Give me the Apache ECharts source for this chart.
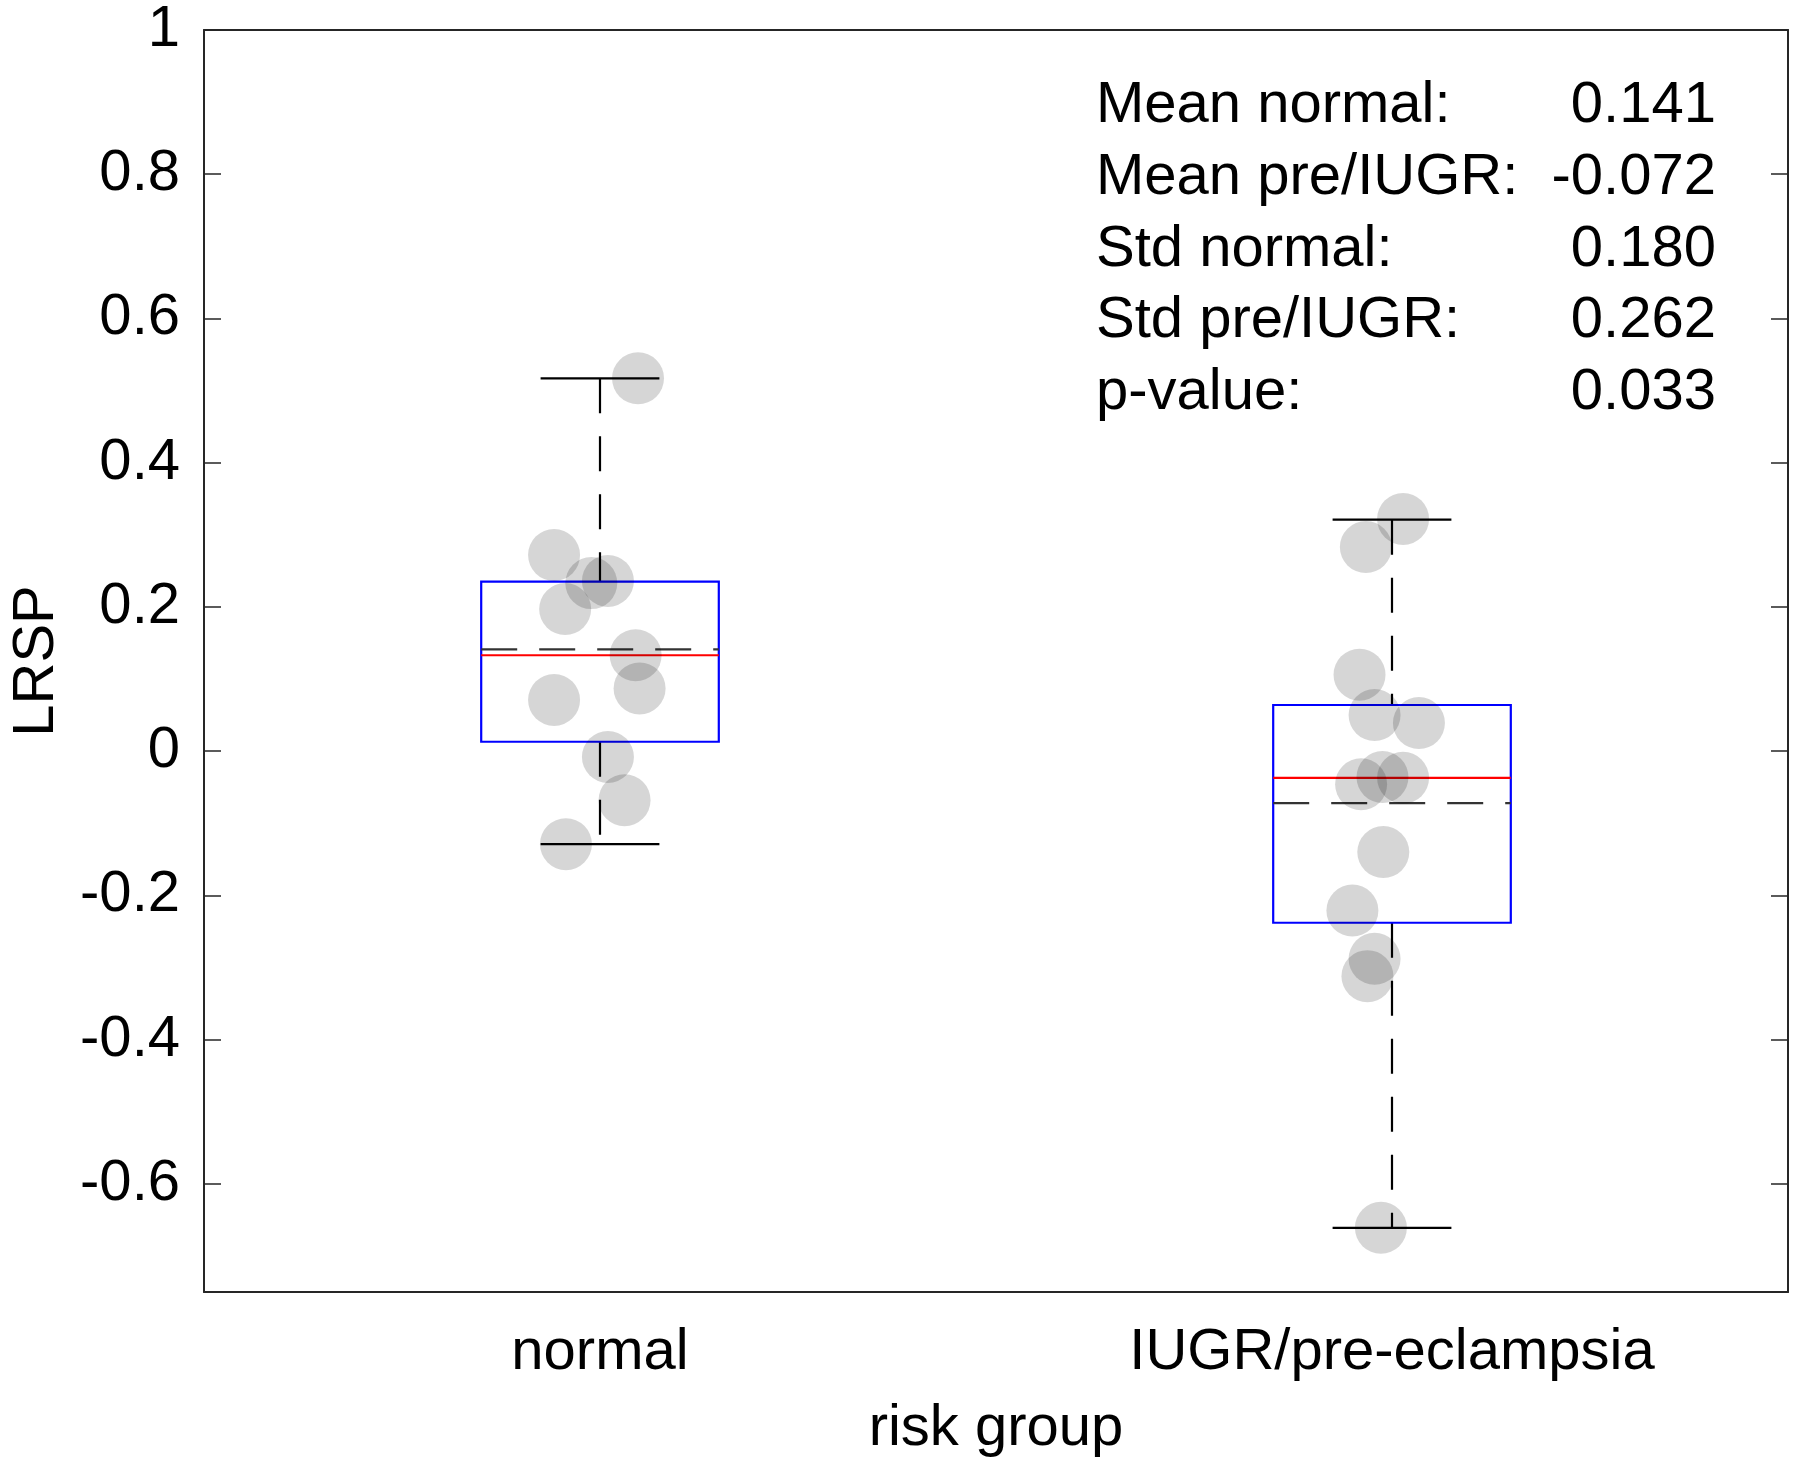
<!DOCTYPE html>
<html>
<head>
<meta charset="utf-8">
<title>LRSP by risk group</title>
<script src="https://cdn.jsdelivr.net/npm/echarts@6/dist/echarts.min.js"></script>
<style>
  html, body { margin: 0; padding: 0; background: #fff; }
  #chart { width: 1800px; height: 1463px; }
</style>
</head>
<body>
<div id="chart"></div>
<script>
// groups on the x axis
var groups = ['normal', 'IUGR/pre-eclampsia'];

// individual points (value + horizontal jitter in category units)
var normalValues = [0.517, 0.272, 0.233, 0.236, 0.197, 0.133, 0.087, 0.071, -0.008, -0.068, -0.129];
var normalJitter = [0.048, -0.058, -0.011, 0.010, -0.044, 0.045, 0.050, -0.058, 0.010, 0.031, -0.043];
var iugrValues = [0.322, 0.283, 0.106, 0.050, 0.039, -0.046, -0.036, -0.037, -0.140, -0.221, -0.288, -0.312, -0.661];
var iugrJitter = [0.014, -0.033, -0.041, -0.022, 0.034, -0.039, -0.012, 0.014, -0.011, -0.050, -0.022, -0.031, -0.014];

// box stats: [lower whisker, q1, median, q3, upper whisker]
var normalBox = [-0.129, 0.013, 0.133, 0.235, 0.517];
var iugrBox = [-0.661, -0.238, -0.037, 0.064, 0.321];
var groupMeans = [0.141, -0.072];

// text block in the upper right corner
var statLabels = ['Mean normal:', 'Mean pre/IUGR:', 'Std normal:', 'Std pre/IUGR:', 'p-value:'];
var statValues = ['0.141', '-0.072', '0.180', '0.262', '0.033'];

var FONT = '"Liberation Sans", Arial, Helvetica, sans-serif';
var AXIS_COLOR = '#262626';

var myChart = echarts.init(document.getElementById('chart'));

function toPoints(values, jitter, pos) {
    return values.map(function (v, i) { return [pos + jitter[i], v]; });
}

var boxData = [
    [1].concat(normalBox, [groupMeans[0]]),
    [2].concat(iugrBox, [groupMeans[1]])
];

function renderBox(params, api) {
    var pos = api.value(0);
    var lo = api.value(1), q1 = api.value(2), med = api.value(3),
        q3 = api.value(4), hi = api.value(5), mean = api.value(6);
    var half = 0.15, capHalf = 0.075;
    function pt(dx, v) { return api.coord([pos + dx, v]); }
    function seg(a, b, style) {
        return { type: 'line', shape: { x1: a[0], y1: a[1], x2: b[0], y2: b[1] }, style: style };
    }
    var whisker = { stroke: '#000', lineWidth: 2.2, lineDash: [35, 23] };
    var cap = { stroke: '#000', lineWidth: 2.2 };
    var tl = pt(-half, q3), br = pt(half, q1);
    return {
        type: 'group',
        children: [
            seg(pt(0, hi), pt(0, q3), whisker),
            seg(pt(0, q1), pt(0, lo), whisker),
            seg(pt(-capHalf, hi), pt(capHalf, hi), cap),
            seg(pt(-capHalf, lo), pt(capHalf, lo), cap),
            {
                type: 'rect',
                shape: { x: tl[0], y: tl[1], width: br[0] - tl[0], height: br[1] - tl[1] },
                style: { fill: 'none', stroke: '#0000ff', lineWidth: 2.2 }
            },
            seg(pt(-half, med), pt(half, med), { stroke: '#ff0000', lineWidth: 2.2 }),
            seg(pt(-half, mean), pt(half, mean), { stroke: '#333', lineWidth: 2.2, lineDash: [36, 22] })
        ]
    };
}

var statGraphics = [];
statLabels.forEach(function (t, i) {
    var y = 106 + i * 71.8;
    statGraphics.push({
        type: 'text', left: 1096, top: y - 29,
        style: { text: t, font: '58px ' + FONT, fill: '#000' }
    });
    statGraphics.push({
        type: 'text', right: 1800 - 1716, top: y - 29,
        style: { text: statValues[i], font: '58px ' + FONT, fill: '#000', textAlign: 'right' }
    });
});

function tickLabel(v) {
    if (Math.abs(v - Math.round(v * 5) / 5) > 1e-6) { return ''; }
    return String(+v.toFixed(1));
}

var option = {
    animation: false,
    backgroundColor: '#fff',
    grid: { left: 201, right: 12, top: 30, bottom: 171 },
    xAxis: [
        {
            type: 'category',
            data: groups,
            position: 'bottom',
            boundaryGap: true,
            name: 'risk group',
            nameLocation: 'middle',
            nameGap: 108,
            nameTextStyle: { fontSize: 58, color: '#000', fontFamily: FONT },
            axisLine: { onZero: false, lineStyle: { color: AXIS_COLOR, width: 2 } },
            axisTick: { inside: true, alignWithLabel: true, length: 17, lineStyle: { color: AXIS_COLOR, width: 1.5 } },
            axisLabel: { fontSize: 58, color: '#000', fontFamily: FONT, margin: 32 },
            splitLine: { show: false }
        },
        {
            type: 'category',
            data: groups,
            position: 'top',
            boundaryGap: true,
            axisLine: { onZero: false, lineStyle: { color: AXIS_COLOR, width: 2 } },
            axisTick: { inside: true, alignWithLabel: true, length: 17, lineStyle: { color: AXIS_COLOR, width: 1.5 } },
            axisLabel: { show: false },
            splitLine: { show: false }
        },
        {
            type: 'value',
            min: 0.5,
            max: 2.5,
            show: false,
            splitLine: { show: false }
        }
    ],
    yAxis: [
        {
            type: 'value',
            min: -0.75,
            max: 1,
            splitNumber: 8,
            name: 'LRSP',
            nameLocation: 'middle',
            nameGap: 138,
            nameTextStyle: { fontSize: 58, color: '#000', fontFamily: FONT },
            axisLine: { show: true, onZero: false, lineStyle: { color: AXIS_COLOR, width: 2 } },
            axisTick: { show: true, inside: true, length: 17, lineStyle: { color: AXIS_COLOR, width: 1.5 } },
            axisLabel: { fontSize: 58, color: '#000', fontFamily: FONT, margin: 24, formatter: tickLabel, showMinLabel: false },
            splitLine: { show: false }
        },
        {
            type: 'value',
            position: 'right',
            min: -0.75,
            max: 1,
            splitNumber: 8,
            axisLine: { show: true, onZero: false, lineStyle: { color: AXIS_COLOR, width: 2 } },
            axisTick: { show: true, inside: true, length: 17, lineStyle: { color: AXIS_COLOR, width: 1.5 } },
            axisLabel: { show: false },
            splitLine: { show: false }
        }
    ],
    graphic: statGraphics,
    series: [
        {
            type: 'custom',
            xAxisIndex: 2,
            yAxisIndex: 0,
            renderItem: renderBox,
            encode: { x: 0, y: [1, 2, 3, 4, 5, 6] },
            data: boxData,
            z: 2
        },
        {
            name: groups[0],
            type: 'scatter',
            xAxisIndex: 2,
            yAxisIndex: 0,
            symbolSize: 52,
            itemStyle: { color: 'rgba(0,0,0,0.2)' },
            data: toPoints(normalValues, normalJitter, 1),
            z: 3
        },
        {
            name: groups[1],
            type: 'scatter',
            xAxisIndex: 2,
            yAxisIndex: 0,
            symbolSize: 52,
            itemStyle: { color: 'rgba(0,0,0,0.2)' },
            data: toPoints(iugrValues, iugrJitter, 2),
            z: 3
        }
    ]
};

myChart.setOption(option);
window.addEventListener('resize', function () { myChart.resize(); });
</script>
</body>
</html>
